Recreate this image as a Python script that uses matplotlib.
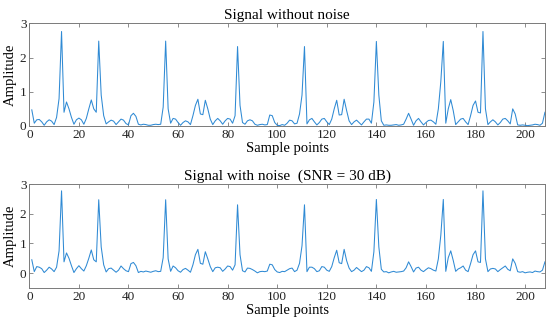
import numpy as np
import matplotlib
matplotlib.use("Agg")
import matplotlib.pyplot as plt

# sample index 1..208
samples = np.arange(1, 209)

clean = [
    0.47, 0.08, 0.18, 0.19, 0.12, 0.02, 0.12, 0.18, 0.14, 0.04,
    0.25, 0.80, 2.76, 0.40, 0.70, 0.50, 0.25, 0.05, 0.18, 0.23,
    0.18, 0.05, 0.22, 0.50, 0.76, 0.50, 0.40, 2.48, 0.90, 0.30,
    0.06, 0.12, 0.17, 0.14, 0.04, 0.12, 0.20, 0.17, 0.07, 0.03,
    0.30, 0.37, 0.28, 0.05, 0.03, 0.05, 0.04, 0.02, 0.02, 0.04,
    0.05, 0.04, 0.05, 0.55, 2.48, 0.50, 0.08, 0.22, 0.20, 0.10,
    0.02, 0.10, 0.15, 0.12, 0.04, 0.30, 0.60, 0.78, 0.35, 0.33,
    0.75, 0.50, 0.20, 0.04, 0.15, 0.22, 0.15, 0.05, 0.15, 0.22,
    0.20, 0.08, 0.30, 2.32, 0.60, 0.10, 0.05, 0.15, 0.18, 0.15,
    0.05, 0.02, 0.04, 0.05, 0.03, 0.04, 0.32, 0.30, 0.10, 0.02,
    0.01, 0.04, 0.02, 0.08, 0.17, 0.15, 0.06, 0.08, 0.35, 0.90,
    2.32, 0.06, 0.18, 0.22, 0.12, 0.03, 0.10, 0.20, 0.22, 0.12,
    0.04, 0.20, 0.50, 0.75, 0.32, 0.33, 0.78, 0.45, 0.15, 0.04,
    0.12, 0.17, 0.10, 0.03, 0.12, 0.20, 0.20, 0.08, 0.70, 2.47,
    0.90, 0.15, 0.02, 0.03, 0.02, 0.02, 0.03, 0.04, 0.02, 0.03,
    0.05, 0.20, 0.37, 0.20, 0.02, 0.15, 0.22, 0.12, 0.03, 0.10,
    0.16, 0.17, 0.12, 0.05, 0.50, 1.30, 2.47, 0.08, 0.50, 0.77,
    0.45, 0.04, 0.12, 0.20, 0.22, 0.12, 0.04, 0.30, 0.60, 0.73,
    0.40, 0.38, 2.76, 0.50, 0.04, 0.12, 0.18, 0.12, 0.03, 0.10,
    0.20, 0.22, 0.15, 0.06, 0.50, 0.35, 0.03, 0.02, 0.03, 0.02,
    0.01, 0.02, 0.03, 0.05, 0.04, 0.02, 0.08, 0.40,
]

noisy = [
    0.45, 0.05, 0.22, 0.20, 0.15, 0.02, 0.10, 0.20, 0.14, 0.05,
    0.20, 0.75, 2.77, 0.38, 0.68, 0.50, 0.25, 0.02, 0.15, 0.25,
    0.15, 0.07, 0.25, 0.50, 0.78, 0.45, 0.38, 2.47, 0.88, 0.28,
    0.04, 0.15, 0.17, 0.10, 0.03, 0.10, 0.24, 0.15, 0.08, 0.05,
    0.32, 0.36, 0.25, 0.02, 0.06, 0.04, 0.07, 0.05, 0.03, 0.06,
    0.08, 0.05, 0.06, 0.52, 2.47, 0.48, 0.06, 0.24, 0.18, 0.08,
    0.03, 0.12, 0.16, 0.10, 0.03, 0.28, 0.62, 0.80, 0.33, 0.30,
    0.72, 0.48, 0.22, 0.05, 0.18, 0.20, 0.18, 0.06, 0.14, 0.24,
    0.22, 0.10, 0.28, 2.30, 0.62, 0.08, 0.04, 0.17, 0.16, 0.12,
    0.07, 0.01, 0.05, 0.06, 0.05, 0.07, 0.30, 0.28, 0.12, 0.04,
    0.02, 0.06, 0.05, 0.10, 0.15, 0.17, 0.05, 0.10, 0.33, 0.92,
    2.30, 0.05, 0.20, 0.20, 0.15, 0.05, 0.08, 0.22, 0.20, 0.10,
    0.06, 0.22, 0.52, 0.77, 0.35, 0.32, 0.80, 0.42, 0.17, 0.05,
    0.10, 0.19, 0.12, 0.05, 0.10, 0.22, 0.18, 0.06, 0.72, 2.48,
    0.88, 0.13, 0.04, 0.05, 0.01, 0.04, 0.06, 0.03, 0.04, 0.05,
    0.07, 0.18, 0.38, 0.22, 0.04, 0.17, 0.20, 0.10, 0.05, 0.12,
    0.18, 0.15, 0.10, 0.07, 0.48, 1.28, 2.48, 0.06, 0.52, 0.75,
    0.43, 0.06, 0.14, 0.18, 0.24, 0.10, 0.05, 0.32, 0.62, 0.75,
    0.38, 0.36, 2.77, 0.48, 0.05, 0.14, 0.16, 0.14, 0.05, 0.12,
    0.18, 0.24, 0.13, 0.08, 0.48, 0.33, 0.05, 0.03, 0.05, 0.01,
    0.03, 0.04, 0.02, 0.07, 0.05, 0.04, 0.10, 0.38,
]

xticks = list(range(0, 201, 20))

plt.rcParams['font.family'] = ['Liberation Serif', 'DejaVu Serif']
line_color = '#2f8ad4'
axis_color = '#7a7a7a'

fig = plt.figure(figsize=(5.5, 3.28), dpi=100)
ax1 = fig.add_axes([0.0533, 0.616, 0.9375, 0.313])
ax2 = fig.add_axes([0.0533, 0.122, 0.9375, 0.317])

panels = [
    (ax1, clean, 'Signal without noise', (0, 3)),
    (ax2, noisy, 'Signal with noise  (SNR = 30 dB)', (-0.5, 3)),
]

for ax, y, title, ylim in panels:
    ax.plot(samples, y, color=line_color, linewidth=0.75)
    ax.set_xlim(0, 208)
    ax.set_ylim(*ylim)
    ax.set_xticks(xticks)
    ax.set_yticks([0, 1, 2, 3])
    ax.set_title(title, fontsize=11, pad=3)
    ax.set_xlabel('Sample points', fontsize=10.5, labelpad=1)
    ax.set_ylabel('Amplitude', fontsize=10.5, labelpad=2)
    ax.tick_params(direction='in', top=True, right=True, length=3,
                   width=0.6, labelsize=9.5, pad=2)
    ax.tick_params(color=axis_color, labelcolor='#222222')
    for s in ax.spines.values():
        s.set_color(axis_color)
        s.set_linewidth(0.7)

fig.savefig('out.png', dpi=100)
